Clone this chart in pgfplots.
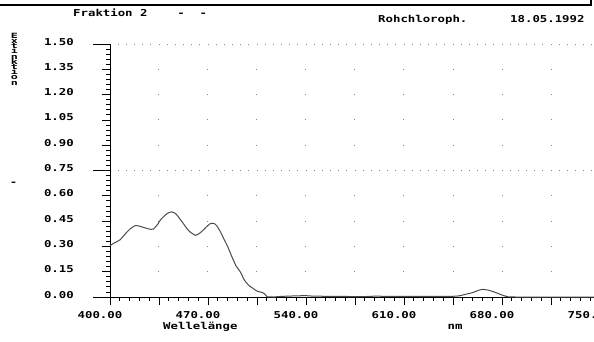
\documentclass[border=0pt]{standalone}
\usepackage{pgfplots}
\pgfplotsset{compat=1.18}
\usepackage{fontspec}
\newfontfamily\pc{DejaVu Sans Mono Bold}[FakeStretch=1.3]
\newcommand\pcf{\pc\fontsize{9.5bp}{11bp}\selectfont}
\definecolor{curve}{RGB}{75,75,75}
\definecolor{dot}{RGB}{130,130,130}
\begin{document}
\begin{tikzpicture}
\begin{axis}[
  at={(110bp,-297bp)}, anchor=south west,
  scale only axis, width=490bp, height=253bp,
  xmin=400, xmax=750, ymin=0, ymax=1.5,
  axis x line=bottom, axis y line=left,
  axis line style={-, black, line width=0.8bp},
  tick style={black, line width=0.8bp},
  tick align=outside,
  major tick length=8bp, minor tick length=4bp,
  xtick={400,435,470,505,540,575,610,645,680,715,750},
  xticklabels={400.00,,470.00,,540.00,,610.00,,680.00,,750.00},
  minor x tick num=4,
  ytick={0,0.15,0.3,0.45,0.6,0.75,0.9,1.05,1.2,1.35,1.5},
  yticklabels={0.00,0.15,0.30,0.45,0.60,0.75,0.90,1.05,1.20,1.35,1.50},
  minor y tick num=4,
  ticklabel style={font=\pcf, inner sep=0pt},
  xticklabel style={anchor=base, xshift=-10bp, yshift=-13bp},
  yticklabel style={anchor=base east, xshift=-28bp, yshift=-1bp},
  clip=false,
]
% dotted grid
\foreach \yy in {0.15,0.3,0.45,0.6,0.9,1.05,1.2,1.35} {
  \edef\tmp{\noexpand\draw[dot, line width=1bp, dash pattern=on 1bp off 48bp] (axis cs:434.64,\yy) -- (axis cs:751,\yy);}
  \tmp
}
\foreach \yy in {0.75,1.5} {
  \edef\tmp{\noexpand\draw[dot, line width=1bp, dash pattern=on 1bp off 7.1667bp] (axis cs:405.5,\yy) -- (axis cs:751,\yy);}
  \tmp
}
\coordinate (a0) at (axis cs:400,0);
\coordinate (a1) at (axis cs:400,0.75);
\coordinate (a2) at (axis cs:400,1.5);
\addplot[curve, line width=1bp, smooth, tension=0.4] coordinates {
(400,0.305) (403,0.320) (407,0.338) (411,0.375) (414,0.401) (418,0.423)
(421,0.420) (425,0.410) (429,0.401) (431,0.403) (434,0.430) (436,0.457)
(439,0.482) (441,0.496) (444,0.505) (446,0.499) (448,0.484) (452,0.440)
(455,0.405) (457,0.387) (461,0.366) (464,0.378) (467,0.400) (469,0.417)
(472,0.437) (475,0.433) (477,0.413) (479,0.385) (481,0.350) (484,0.300)
(487,0.240) (490,0.185) (493,0.150) (496,0.100) (499,0.070) (502,0.052)
(505,0.035) (509,0.026) (511,0.014) (512,0.002) (517,0.000) (521,0.003)
(530,0.006) (540,0.008) (545,0.005) (560,0.004) (570,0.003) (580,0.002)
(590,0.005) (600,0.003) (610,0.004) (630,0.004) (645,0.004) (650,0.008)
(655,0.018) (659,0.026) (663,0.039) (666,0.045) (670,0.041) (675,0.028)
(680,0.012) (684,0.002) (690,0.000) (750,0.000)
};
\end{axis}
% long ticks / axis extension
\draw[black, line width=0.8bp] (a0) -- ++(-17bp,0);
\draw[black, line width=0.8bp] (a1) -- ++(-17bp,0);
\draw[black, line width=0.8bp] (a2) -- ++(-17bp,0);
% header
\draw[black, line width=2bp] (0,-5bp) -- (591bp,-5bp);
\draw[black, line width=1.5bp] (591bp,0) -- (591bp,-6bp);
\node[font=\pcf, anchor=base west, inner sep=0pt] at (73bp,-16bp) {Fraktion~2~~~~-~~-};
\node[font=\pcf, anchor=base west, inner sep=0pt] at (378bp,-22bp) {Rohchloroph.};
\node[font=\pcf, anchor=base west, inner sep=0pt] at (510bp,-22bp) {18.05.1992};
\node[font=\pcf, anchor=base west, inner sep=0pt] at (163bp,-329bp) {Wellelänge};
\node[font=\pcf, anchor=base, inner sep=0pt] at (455bp,-329bp) {nm};
\node[font=\pcf, anchor=center, inner sep=0pt] at (13.5bp,-184bp) {-};
\foreach \c [count=\i from 0] in {E,x,t,i,n,k,t,i,o,n} {
  \node[font=\pc\fontsize{9bp}{10bp}\selectfont, anchor=base, inner sep=0pt] at (14.5bp,-38.3bp-5.19bp*\i) {\scalebox{1}[0.8]{\c}};
}
\pgfresetboundingbox
\path[use as bounding box] (0,0) rectangle (594bp,-342bp);
\end{tikzpicture}
\end{document}
